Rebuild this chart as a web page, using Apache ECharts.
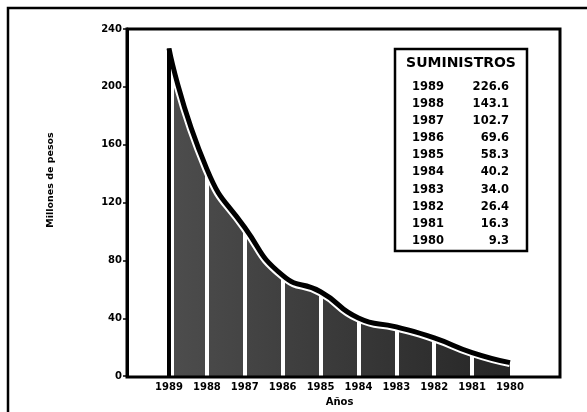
<!DOCTYPE html>
<html>
<head>
<meta charset="utf-8">
<script src="https://cdn.jsdelivr.net/npm/echarts@6/dist/echarts.min.js"></script>
<style>html,body{margin:0;padding:0;background:#fff}#c{width:587px;height:412px}</style>
</head>
<body>
<div id="c"></div>
<script>
const years = ['1989','1988','1987','1986','1985','1984','1983','1982','1981','1980'];
const suministros = [226.6, 143.1, 102.7, 69.6, 58.3, 40.2, 34.0, 26.4, 16.3, 9.3];
const yTicks = {min: 0, max: 240, interval: 40};
const tableTitle = 'SUMINISTROS';
const yName = 'Millones de pesos';
const xName = 'Años';

const FONT = '"DejaVu Sans", "Liberation Sans", sans-serif';
const chart = echarts.init(document.getElementById('c'), null, {renderer: 'canvas'});

const tableEls = [
  {type: 'rect', z: 20, shape: {x: 395, y: 49, width: 132, height: 202},
   style: {fill: '#fff', stroke: '#000', lineWidth: 2.5}},
  {type: 'text', z: 21, x: 461, y: 63,
   style: {text: tableTitle, fill: '#000', font: 'bold 14px ' + FONT, textAlign: 'center', textVerticalAlign: 'middle', align: 'center', verticalAlign: 'middle'}}
];
years.forEach((yr, i) => {
  const yy = 87 + i * 17.1;
  tableEls.push({type: 'text', z: 21, x: 412, y: yy,
    style: {text: yr, fill: '#000', font: 'bold 11.5px ' + FONT, textAlign: 'left', textVerticalAlign: 'middle', align: 'left', verticalAlign: 'middle'}});
  tableEls.push({type: 'text', z: 21, x: 509, y: yy,
    style: {text: suministros[i].toFixed(1), fill: '#000', font: 'bold 11.5px ' + FONT, textAlign: 'right', textVerticalAlign: 'middle', align: 'right', verticalAlign: 'middle'}});
});

const option = {
  animation: false,
  backgroundColor: '#fff',
  grid: {left: 169, right: 77, top: 29, bottom: 35},
  xAxis: {
    type: 'category', data: years, boundaryGap: false,
    axisLine: {show: false}, axisTick: {show: false}, splitLine: {show: false},
    axisLabel: {color: '#000', fontFamily: FONT, fontWeight: 'bold', fontSize: 10, margin: 6, interval: 0},
    name: xName, nameLocation: 'middle', nameGap: 20,
    nameTextStyle: {color: '#000', fontFamily: FONT, fontWeight: 'bold', fontSize: 10}
  },
  yAxis: {
    type: 'value', min: yTicks.min, max: yTicks.max, interval: yTicks.interval,
    offset: 42,
    axisLine: {show: true, lineStyle: {color: '#000', width: 3}},
    axisTick: {show: true, length: 4, lineStyle: {color: '#000', width: 1.5}},
    splitLine: {show: false},
    axisLabel: {color: '#000', fontFamily: FONT, fontWeight: 'bold', fontSize: 10, margin: 5}
  },
  graphic: [
    {type: 'rect', z: 15, shape: {x: 8, y: 8, width: 640, height: 460}, style: {fill: 'none', stroke: '#000', lineWidth: 2.5}, silent: true},
    {type: 'rect', z: 15, shape: {x: 127, y: 29, width: 433, height: 348}, style: {fill: 'none', stroke: '#000', lineWidth: 3}, silent: true},
    {type: 'text', z: 15, x: 51, y: 180, rotation: Math.PI / 2,
     style: {text: yName, fill: '#000', font: 'bold 9.5px ' + FONT, textAlign: 'center', textVerticalAlign: 'middle', align: 'center', verticalAlign: 'middle'}},
    {type: 'group', z: 20, children: tableEls}
  ],
  series: [
    {
      type: 'line', data: suministros, smooth: 0.55, symbol: 'none', z: 2,
      lineStyle: {color: '#fff', width: 9},
      areaStyle: {opacity: 1, color: new echarts.graphic.LinearGradient(0, 0, 1, 0, [
        {offset: 0, color: '#4d4d4d'}, {offset: 1, color: '#262626'}])},
      markLine: {
        z: 3, silent: true, symbol: 'none', label: {show: false},
        lineStyle: {color: '#fff', width: 4, type: 'solid'},
        data: years.slice(1, -1).map(y => ({xAxis: y})).concat([{xAxis: years[0], lineStyle: {color: '#fff', width: 10, type: 'solid'}}])
      }
    },
    {
      type: 'line', data: suministros, smooth: 0.55, symbol: 'none', z: 6,
      lineStyle: {color: '#000', width: 5},
      markLine: {
        z: 7, silent: true, symbol: 'none', label: {show: false},
        lineStyle: {color: '#000', width: 4, type: 'solid'},
        data: [[{coord: [years[0], 0]}, {coord: [years[0], suministros[0]]}]]
      }
    }
  ]
};
chart.setOption(option);
</script>
</body>
</html>
